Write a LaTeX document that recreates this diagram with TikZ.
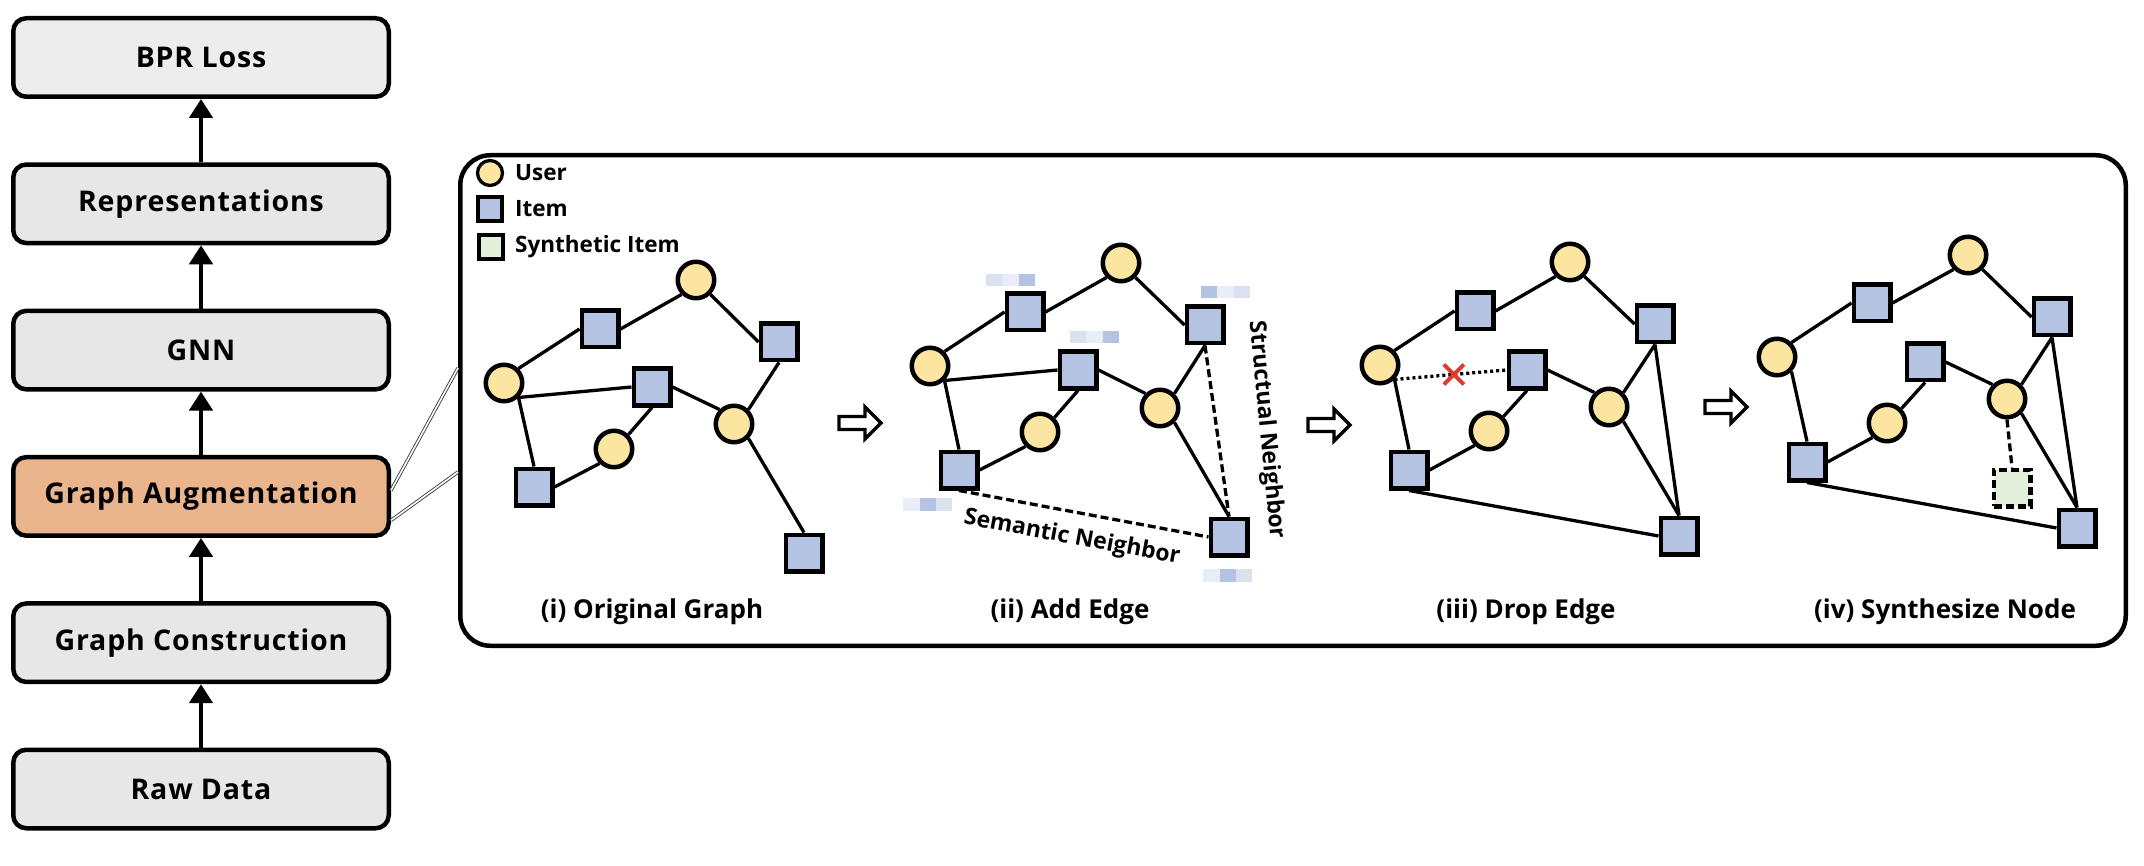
\documentclass[tikz,border=0pt]{standalone}
\usepackage{fontspec}
\setmainfont{Open Sans}
\newfontfamily\boxfont{Open Sans}[LetterSpace=3]
\usetikzlibrary{arrows.meta,calc}
\definecolor{ucol}{HTML}{FBE5A1}
\definecolor{icol}{HTML}{B4C3E2}
\definecolor{scol}{HTML}{E2EFDA}
\definecolor{gacol}{HTML}{EAB58C}
\definecolor{boxcol}{HTML}{E7E7E7}
\definecolor{boxtop}{HTML}{EDEDED}
\definecolor{ebA}{HTML}{DAE2F0}
\definecolor{ebB}{HTML}{E9EDF7}
\definecolor{xred}{HTML}{E0392D}
\pgfdeclarelayer{back}
\pgfdeclarelayer{bg}
\pgfsetlayers{back,bg,main}
\newcommand\ebar[5]{%
  \fill[#3] (#1,#2) rectangle ++(16.3,12.5);
  \fill[#4] (#1+16.3,#2) rectangle ++(16.3,12.5);
  \fill[#5] (#1+32.6,#2) rectangle ++(16.3,12.5);}
\newcommand\harrow[1]{%
  \draw[hollowarrow] ($(#1)+(-21,-6.5)$) -- ++(26,0) -- ++(0,-9.5) -- ++(16,16)
     -- ++(-16,16) -- ++(0,-9.5) -- ++(-26,0) -- cycle;}
\newcommand\baseedges[1]{%
  \draw[edge] (#1-U2.45) -- (#1-I1.west);
  \draw[edge] (#1-I1.east) -- (#1-U1.225);
  \draw[edge] (#1-U1.-45) -- (#1-I3.west);
  \draw[edge] (#1-I3.south) -- (#1-U3.45);
  \draw[edge] (#1-I2.east) -- (#1-U3.135);
  \draw[edge] (#1-U2.-45) -- (#1-I4.north);
  \draw[edge] (#1-I4.east) -- (#1-U4.225);
  \draw[edge] (#1-U4.45) -- (#1-I2.south);
  \draw[edge] (#1-U3.-45) -- (#1-I5.north);}
\begin{document}
\begin{tikzpicture}[x=1pt,y=-1pt,
  stage/.style={draw, line width=4.5pt, rounded corners=13pt, fill=boxcol, minimum width=375.5pt, minimum height=78.5pt, inner sep=0pt, font=\boxfont\bfseries\fontsize{28.5}{34}\selectfont},
  flow/.style={line width=4.5pt, -{Triangle[width=23pt,length=19pt]}},
  user/.style={circle, draw, line width=4.5pt, fill=ucol, minimum size=36.5pt, inner sep=0pt},
  item/.style={rectangle, draw, line width=4.5pt, fill=icol, minimum size=36.5pt, inner sep=0pt},
  synth/.style={rectangle, draw, line width=4.5pt, fill=scol, minimum size=36.5pt, inner sep=0pt, dash pattern=on 8pt off 4pt},
  edge/.style={line width=3.3pt},
  dedge/.style={line width=3.3pt, dash pattern=on 8pt off 4pt},
  dotedge/.style={line width=3.3pt, dash pattern=on 3pt off 3pt},
  caption/.style={font=\bfseries\fontsize{26}{31}\selectfont},
  legtext/.style={anchor=west, inner sep=0pt, font=\bfseries\fontsize{22.5}{26}\selectfont},
  nbtext/.style={inner sep=0pt, font=\bfseries\fontsize{23}{28}\selectfont},
  hollowarrow/.style={draw, line width=3.3pt, fill=white, line join=miter},
  link/.style={draw=black!75, double=white, double distance=1.6pt, line width=0.9pt}
]
\begin{pgfonlayer}{back}
\fill[white] (0,0) rectangle (2144,866);
\end{pgfonlayer}
\useasboundingbox (0,0) rectangle (2144,866);

% ---- left pipeline ----
\node[stage, fill=boxtop] (bpr) at (201,57.5) {BPR Loss};
\node[stage] (rep) at (201,203.8) {Representations};
\node[stage] (gnn) at (201,350.1) {GNN};
\node[stage, fill=gacol] (ga) at (201,496.4) {Graph Augmentation};
\node[stage] (gc) at (201,642.7) {Graph Construction};
\node[stage] (rd) at (201,789) {Raw Data};
\draw[flow] (rd.north) -- (gc.south);
\draw[flow] (gc.north) -- (ga.south);
\draw[flow] (ga.north) -- (gnn.south);
\draw[flow] (gnn.north) -- (rep.south);
\draw[flow] (rep.north) -- (bpr.south);

% ---- augmentation panel ----
\node[draw, line width=4.5pt, rounded corners=30pt, minimum width=1665.5pt, minimum height=490.5pt, inner sep=0pt] (aug) at (1293,400.5) {};
\coordinate (gaU) at ($(ga.east)+(0,-6)$);
\coordinate (gaL) at ($(ga.east)+(0,24)$);
\coordinate (augU) at ($(aug.west)+(0,-32.5)$);
\coordinate (augL) at ($(aug.west)+(0,71.5)$);
\draw[link] (gaU) -- (augU);
\draw[link] (gaL) -- (augL);

% legend
\node[circle, draw, line width=3.3pt, fill=ucol, minimum size=25pt, inner sep=0pt] (legU) at (490,173) {};
\node[rectangle, draw, line width=3.3pt, fill=icol, minimum size=24pt, inner sep=0pt] (legI) at (490,209) {};
\node[rectangle, draw, line width=3.3pt, fill=scol, minimum size=24pt, inner sep=0pt] (legS) at (491,247) {};
\node[legtext] (legUt) at (515,173) {User};
\node[legtext] (legIt) at (515,209) {Item};
\node[legtext] (legSt) at (515,247) {Synthetic Item};

% ---- (i) original graph ----
\node[user] (a-U1) at (696,280) {};
\node[item] (a-I1) at (600,329) {};
\node[user] (a-U2) at (504,383) {};
\node[item] (a-I2) at (652,387) {};
\node[item] (a-I3) at (779,342) {};
\node[user] (a-U3) at (734,424) {};
\node[user] (a-U4) at (614,449) {};
\node[item] (a-I4) at (534,487) {};
\node[item] (a-I5) at (804,553) {};
\node[caption] (capa) at (652,612) {(i) Original Graph};

% ---- (ii) add edge ----
\node[user] (b-U1) at (1121,263) {};
\node[item] (b-I1) at (1025,312) {};
\node[user] (b-U2) at (930,366) {};
\node[item] (b-I2) at (1078,370) {};
\node[item] (b-I3) at (1205,325) {};
\node[user] (b-U3) at (1160,408) {};
\node[user] (b-U4) at (1040,432) {};
\node[item] (b-I4) at (959,470) {};
\node[item] (b-I5) at (1229,537) {};
\node[caption] (capb) at (1070,612) {(ii) Add Edge};
\node[nbtext, rotate=-10.5] (sem) at (1072,538) {Semantic Neighbor};
\node[nbtext, rotate=-84.5] (str) at (1266,430) {Structual Neighbor};
\ebar{986}{274}{ebA}{ebB}{icol}
\ebar{1070}{331}{ebA}{ebB}{icol}
\ebar{1201}{286}{icol}{ebB}{ebA}
\ebar{903.3}{498.3}{ebB}{icol}{ebA}
\ebar{1203.3}{569.3}{ebB}{icol}{ebA}

% ---- (iii) drop edge ----
\node[user] (c-U1) at (1570,262) {};
\node[item] (c-I1) at (1475,311) {};
\node[user] (c-U2) at (1380,365) {};
\node[item] (c-I2) at (1527,370) {};
\node[item] (c-I3) at (1655,324) {};
\node[user] (c-U3) at (1609,407) {};
\node[user] (c-U4) at (1489,431) {};
\node[item] (c-I4) at (1409,470) {};
\node[item] (c-I5) at (1679,536) {};
\node[caption] (capc) at (1526,612) {(iii) Drop Edge};

% ---- (iv) synthesize node ----
\node[user] (d-U1) at (1968,255) {};
\node[item] (d-I1) at (1872,303) {};
\node[user] (d-U2) at (1777,357) {};
\node[item] (d-I2) at (1925,362) {};
\node[item] (d-I3) at (2052,317) {};
\node[user] (d-U3) at (2007,399) {};
\node[user] (d-U4) at (1887,423) {};
\node[item] (d-I4) at (1807,462) {};
\node[item] (d-I5) at (2077,528) {};
\node[synth] (d-S) at (2012,488) {};
\node[caption] (capd) at (1945,612) {(iv) Synthesize Node};

% hollow arrows
\coordinate (arr1) at (860,423);
\coordinate (arr2) at (1329,425);
\coordinate (arr3) at (1726,407);
\harrow{arr1}
\harrow{arr2}
\harrow{arr3}

\begin{pgfonlayer}{bg}
  \baseedges{a}
  \draw[edge] (a-U2.-45) -- (a-I2.west);
  \baseedges{b}
  \draw[edge] (b-U2.-45) -- (b-I2.west);
  \draw[dedge] (b-I3.south) -- (b-I5.north);
  \draw[dedge] (b-I4.south) -- (b-I5.west);
  \baseedges{c}
  \draw[edge] (c-I3.south) -- (c-I5.north);
  \draw[edge] (c-I4.south) -- (c-I5.west);
  \draw[dotedge] (c-U2.-45) -- coordinate[pos=0.53] (xmark) (c-I2.west);
  \baseedges{d}
  \draw[edge] (d-I3.south) -- (d-I5.north);
  \draw[edge] (d-I4.south) -- (d-I5.west);
  \draw[dedge] (d-U3.south) -- (d-S.north);
\end{pgfonlayer}
\draw[xred, line width=4pt] ($(xmark)+(-10,-10)$) -- ($(xmark)+(10,10)$);
\draw[xred, line width=4pt] ($(xmark)+(-10,10)$) -- ($(xmark)+(10,-10)$);
\end{tikzpicture}
\end{document}
